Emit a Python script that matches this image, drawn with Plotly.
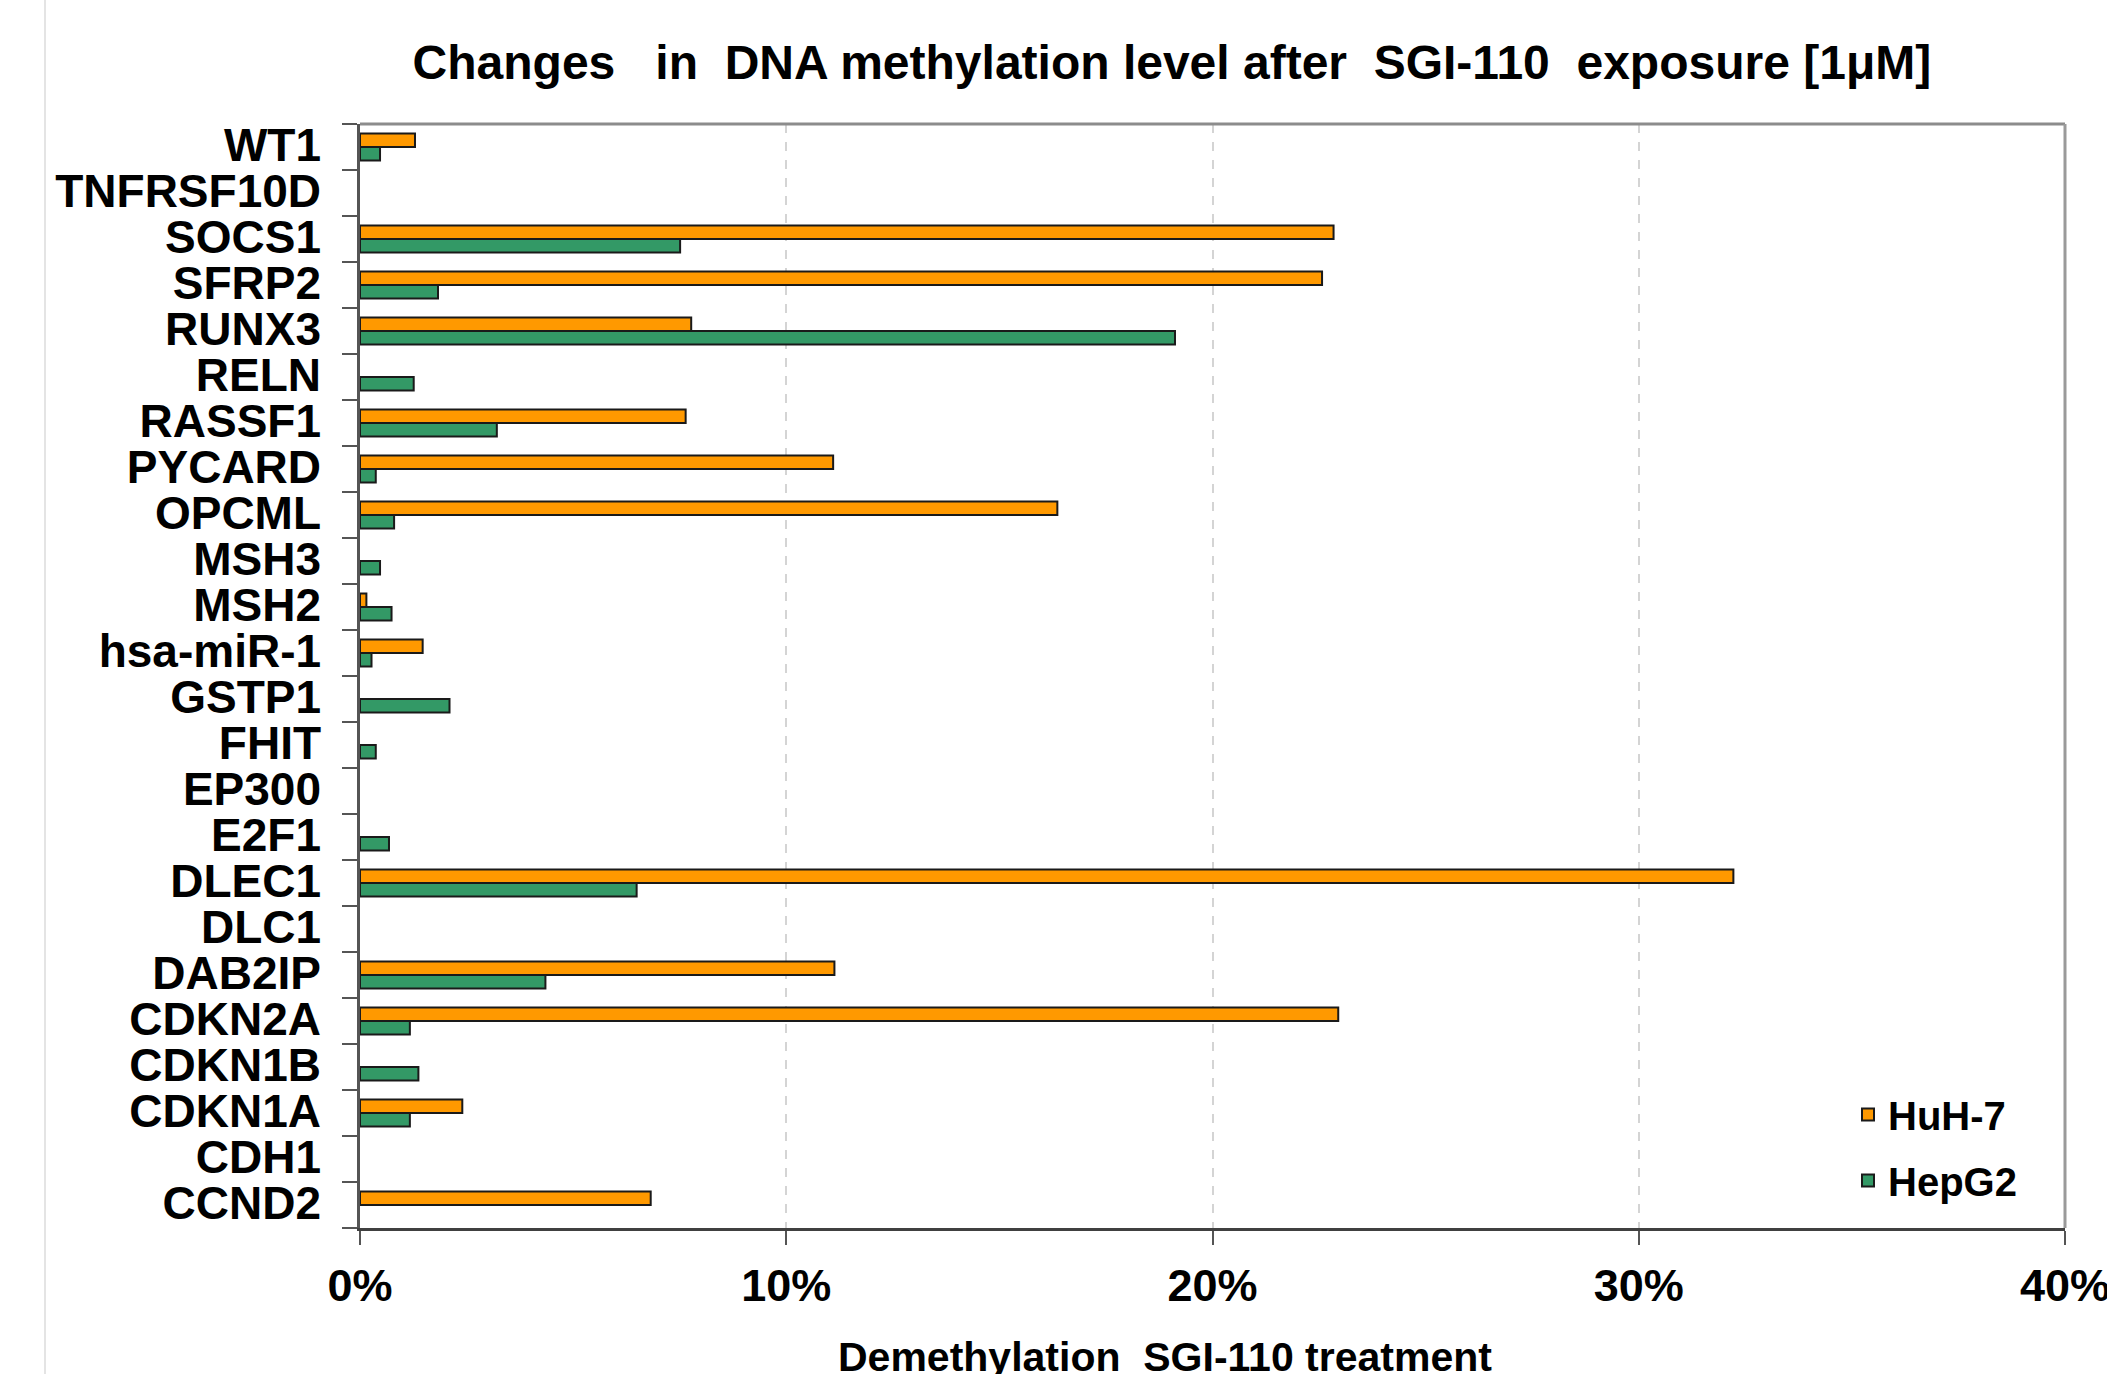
import plotly.graph_objects as go

# Genes, listed top to bottom as they appear on the chart
genes = ["WT1", "TNFRSF10D", "SOCS1", "SFRP2", "RUNX3", "RELN", "RASSF1", "PYCARD",
         "OPCML", "MSH3", "MSH2", "hsa-miR-1", "GSTP1", "FHIT", "EP300", "E2F1",
         "DLEC1", "DLC1", "DAB2IP", "CDKN2A", "CDKN1B", "CDKN1A", "CDH1", "CCND2"]

# Demethylation after SGI-110 exposure (fraction, 0.10 = 10%)
huh7 = [0.0129, 0.0, 0.2284, 0.2257, 0.0777, 0.0, 0.0764, 0.1110,
        0.1636, 0.0, 0.0015, 0.0147, 0.0, 0.0, 0.0, 0.0,
        0.3222, 0.0, 0.1113, 0.2295, 0.0, 0.0240, 0.0, 0.0682]
hepg2 = [0.0047, 0.0, 0.0751, 0.0183, 0.1912, 0.0126, 0.0321, 0.0037,
         0.0080, 0.0047, 0.0074, 0.0027, 0.0210, 0.0037, 0.0, 0.0068,
         0.0649, 0.0, 0.0435, 0.0117, 0.0137, 0.0117, 0.0, 0.0]

x_ticks = [0, 0.1, 0.2, 0.3, 0.4]
series_names = ["HuH-7", "HepG2"]
series_colors = ["#FF9900", "#339966"]

FONT = "Liberation Sans, Arial, sans-serif"

fig = go.Figure()
for name, vals, color in zip(series_names, [huh7, hepg2], series_colors):
    # no change -> no bar (avoids an outline on a zero-length bar)
    shown = [v if v > 0 else None for v in vals]
    fig.add_trace(go.Bar(
        y=genes, x=shown, name=name, orientation="h",
        legendgroup=name,
        marker=dict(color=color, line=dict(color="#1a1a1a", width=2)),
    ))

# plot-area boundaries in page pixels
L, R, T, B = 360, 2065, 124, 1228
W, H = 2107, 1374

fig.update_layout(
    width=W, height=H,
    margin=dict(l=L, r=W - R, t=T, b=H - B, autoexpand=False),
    paper_bgcolor="white", plot_bgcolor="white",
    barmode="group", bargap=0.41, bargroupgap=0,
    font=dict(family=FONT, color="black"),
    title=dict(
        text="<b>Changes \u00a0 in \u00a0DNA methylation level after \u00a0SGI-110 \u00a0exposure [1\u03bcM]</b>",
        font=dict(size=48, family=FONT, color="black"),
        xref="paper", x=0.4762, xanchor="center",
        yref="container", y=1 - 62.5 / H, yanchor="middle",
    ),
    legend=dict(
        x=(1848 - L) / (R - L), xanchor="left",
        y=1 - (1082 - T) / (B - T), yanchor="top",
        font=dict(size=40, family=FONT, color="black", weight="bold"),
        bgcolor="rgba(0,0,0,0)", traceorder="grouped", tracegroupgap=11,
    ),
    showlegend=True,
)

fig.update_xaxes(
    range=[0, 0.4], tickmode="array", tickvals=x_ticks, tickformat=".0%",
    tickfont=dict(size=45, family=FONT, color="black", weight="bold"),
    showgrid=True, gridcolor="#d4d4d4", griddash="dash", gridwidth=1.5,
    zeroline=False,
    showline=True, linecolor="#404040", linewidth=2.5,
    ticks="outside", ticklen=14, tickwidth=2, tickcolor="#555555",
    ticklabelstandoff=2, ticklabeloverflow="allow",
    fixedrange=True,
)
fig.update_yaxes(
    categoryorder="array", categoryarray=genes, autorange="reversed",
    tickmode="array", tickvals=genes, ticktext=genes,
    tickfont=dict(size=46, family=FONT, color="black", weight="bold"),
    showgrid=False, zeroline=False,
    showline=True, linecolor="#555555", linewidth=2.5,
    ticks="outside", ticklen=15, tickwidth=2, tickcolor="#555555",
    tickson="boundaries", ticklabelstandoff=27, ticklabelshift=2,
    fixedrange=True,
)

# top and right frame of the plot area
fig.add_shape(type="line", xref="paper", yref="paper", x0=0, x1=1, y0=1, y1=1,
              line=dict(color="#8c8c8c", width=3), layer="above")
fig.add_shape(type="line", xref="paper", yref="paper", x0=1, x1=1, y0=0, y1=1,
              line=dict(color="#9a9a9a", width=3), layer="above")
# thin page border on the left
fig.add_shape(type="line", xref="paper", yref="paper",
              x0=(45 - L) / (R - L), x1=(45 - L) / (R - L),
              y0=-(H - B) / (B - T) - 0.01, y1=1 + T / (B - T) + 0.01,
              line=dict(color="#e4e4e4", width=2))

# x-axis title
fig.add_annotation(
    text="<b>Demethylation \u00a0SGI-110 treatment</b>",
    xref="paper", x=(1165 - L) / (R - L), xanchor="center",
    yref="paper", y=0, yshift=-129, yanchor="middle",
    showarrow=False, font=dict(size=41, family=FONT, color="black"),
)

fig.write_html("out.html")
